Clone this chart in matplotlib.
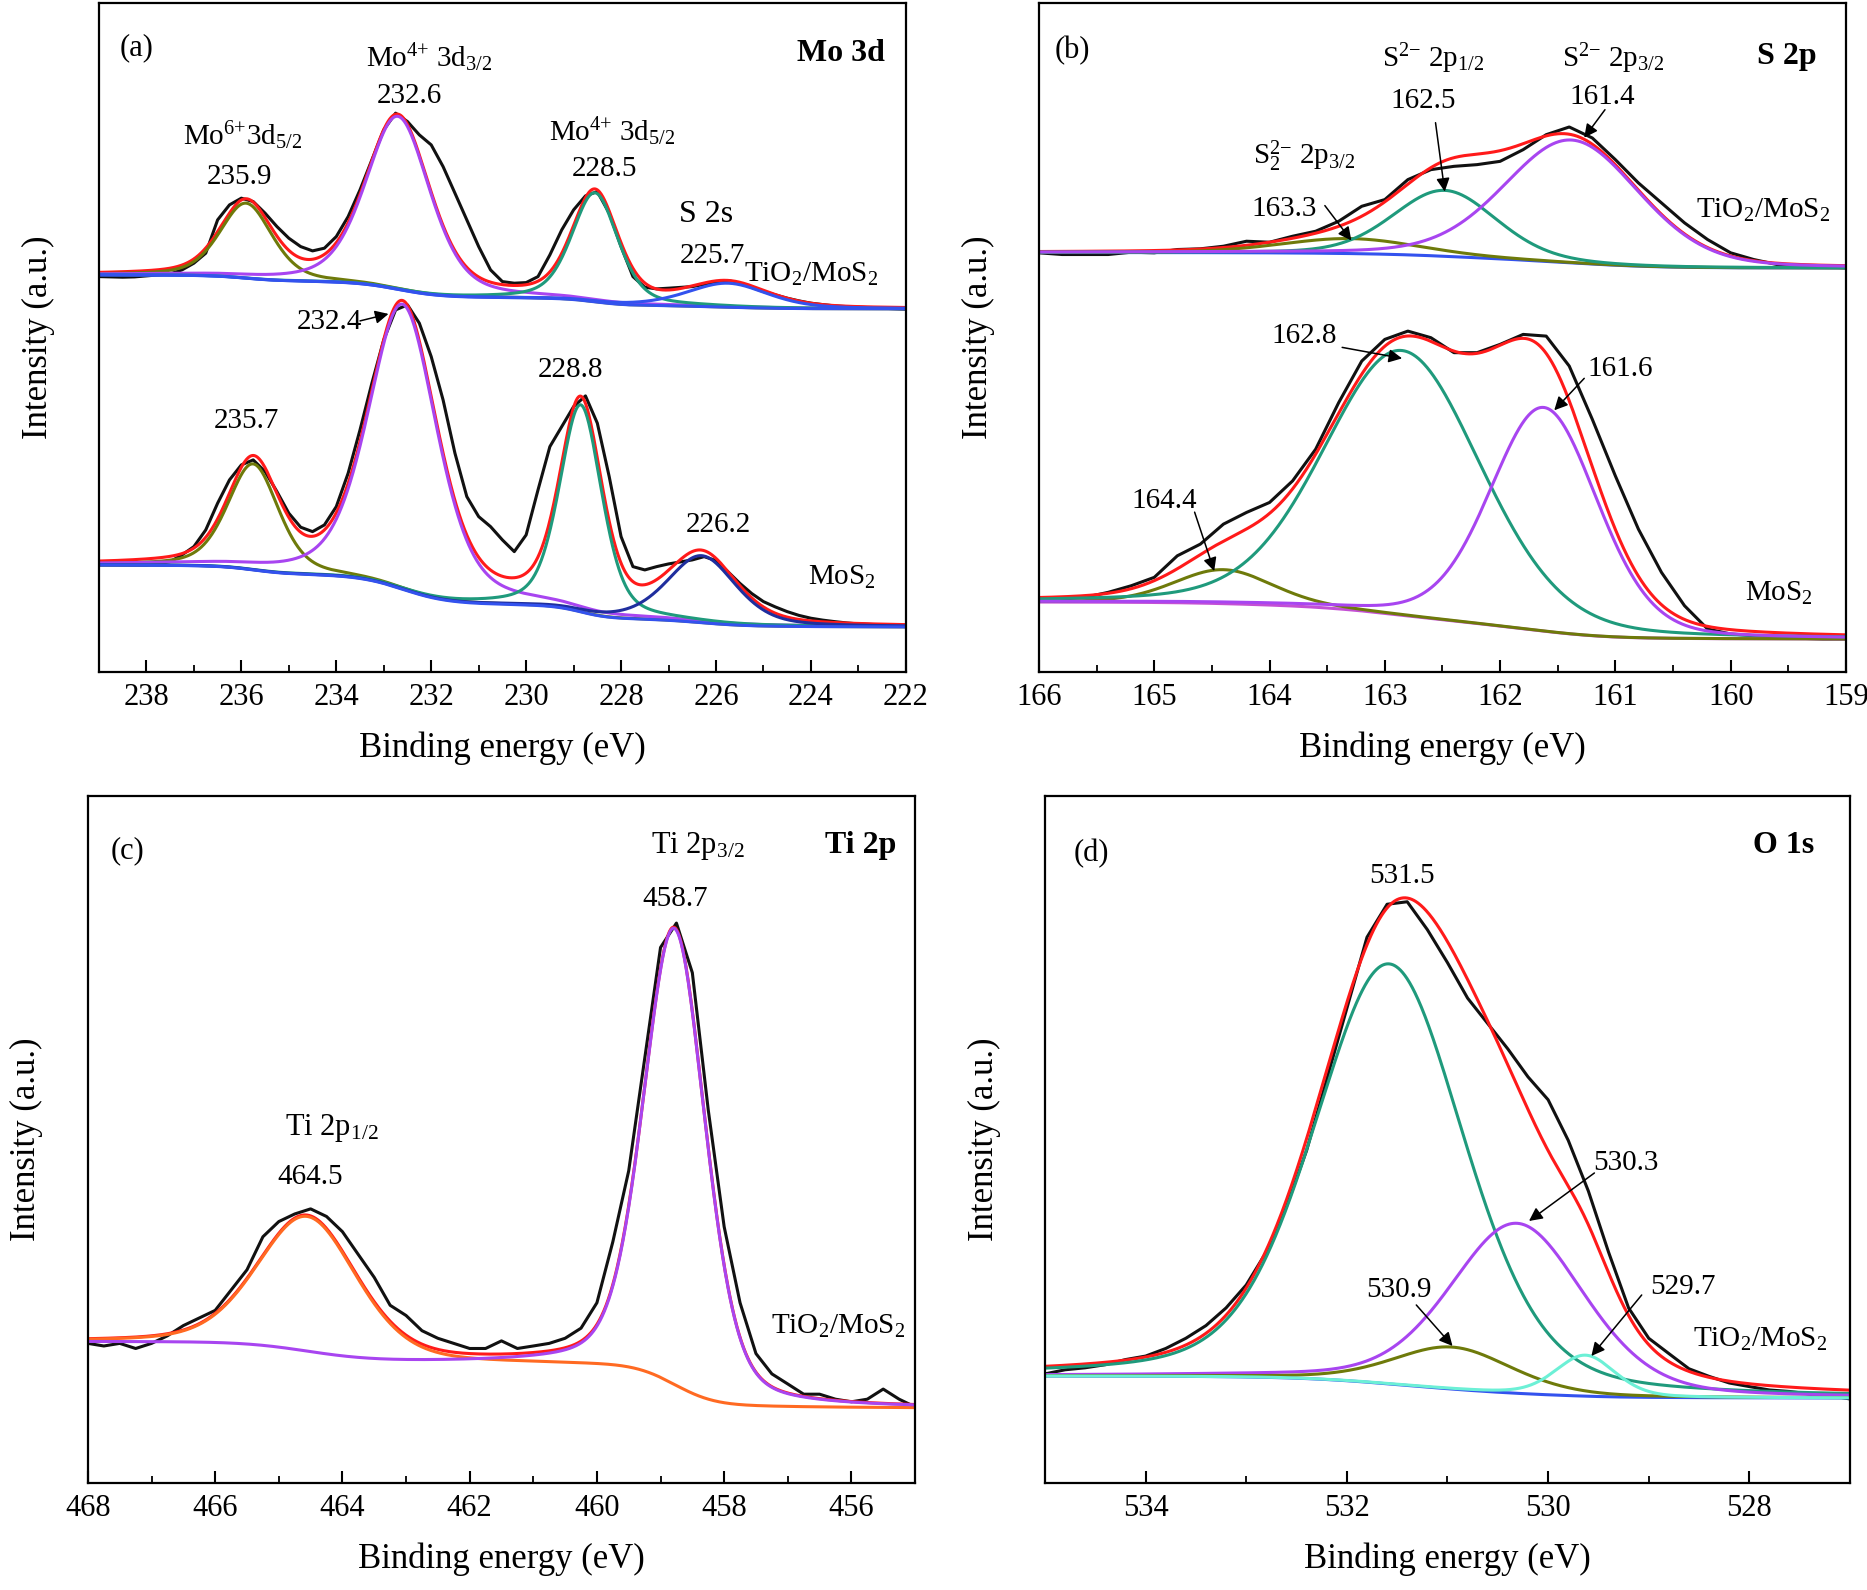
import numpy as np
import matplotlib
matplotlib.use('Agg')
import matplotlib.pyplot as plt
from matplotlib.ticker import MultipleLocator

plt.rcParams['font.family'] = ['Liberation Serif', 'DejaVu Serif']
plt.rcParams['mathtext.fontset'] = 'custom'
plt.rcParams['mathtext.rm'] = 'Liberation Serif'
plt.rcParams['mathtext.it'] = 'Liberation Serif:italic'
plt.rcParams['mathtext.bf'] = 'Liberation Serif:bold'

# ---------------- measured spectra (read off the figure) ----------------
# (a) Mo 3d, 239 -> 222 eV, step 0.25
mo_be = np.linspace(239, 222, 69)
mo_hybrid_counts = [395.3, 395, 394.7, 395, 396, 397, 398, 402, 408.7, 418.7, 452, 467,
                    473.7, 470.3, 458.7, 445.3, 433.7, 425.3, 421, 423.7, 435.3, 455.3,
                    482, 512, 542, 558.7, 550.3, 537, 527, 505.3, 478.7, 452, 425.3, 402,
                    390.3, 388.7, 389.3, 395.3, 417, 442, 462, 476, 480.3, 458.7, 425.3,
                    395.3, 384.7, 383, 383.7, 384.5, 385.3, 387.5, 389.3, 391.3, 388.7,
                    384.5, 380.3, 377, 373.7, 371, 368.7, 367.3, 366, 365.3, 364.7, 364.2,
                    363.7, 363.2, 362.7]
mo_bare_counts = [107, 107, 107, 107, 107, 108, 110.3, 117, 125.3, 142, 168.7, 192, 207,
                  212, 200.3, 180.3, 158.7, 144.7, 140.3, 147, 165.3, 198.7, 242, 288.7,
                  332, 362, 367, 348.7, 315.3, 272, 218.7, 175.3, 155.3, 145.3, 132, 120.3,
                  137, 182, 225.3, 245.3, 265.3, 276, 248.7, 195.3, 135.3, 105.3, 102,
                  105.3, 108, 110, 112, 115.3, 111.3, 100.3, 88.7, 78.5, 70.3, 65, 60.3,
                  56.5, 53.7, 51.8, 50.3, 49, 48, 47.5, 47, 46.2, 45.3]

# (b) S 2p, 166 -> 159 eV, step 0.2
s_be = np.linspace(166, 159, 36)
s_hybrid_counts = [419.7, 418, 418, 418, 420.3, 419.7, 423, 423.7, 426.3, 431.3, 430.3,
                   436.3, 441.3, 451.3, 466.3, 473, 493, 503, 506.3, 508, 511.3, 523, 538,
                   545.7, 534.7, 513, 489.7, 469.7, 449.7, 433, 419.7, 413, 408, 407,
                   405.7, 404.7]
s_bare_counts = [71.3, 73, 74.7, 79.7, 86.3, 94.7, 116.3, 128, 148, 159.7, 169.7, 191.3,
                 223, 269.7, 311.3, 333, 341.3, 334.7, 319.7, 319.7, 328, 338, 336.3,
                 306.3, 253, 196.3, 143, 99.7, 66.3, 43, 38, 36.3, 34.7, 33.7, 33, 33]

# (c) Ti 2p, 468 -> 455 eV, step 0.25
ti_be = np.linspace(468, 455, 53)
ti_counts = [139.6, 137, 139.6, 134.5, 139.6, 147.2, 157.4, 165, 172.6, 192.9, 213.2,
             246.2, 261.4, 269, 274.1, 266.5, 251.3, 228.4, 205.6, 177.7, 167.5, 152.3,
             144.7, 139.6, 134.5, 134.5, 142.1, 134.5, 137, 139.6, 144.7, 154.8, 180.2,
             241.1, 312.2, 423.9, 535.5, 559.9, 510.2, 373.1, 256.3, 180.2, 129.4, 109.1,
             99, 88.8, 88.8, 83.8, 81.2, 83.8, 93.9, 83.8, 76.1]

# (d) O 1s, 535 -> 527 eV, step 0.2
o_be = np.linspace(535, 527, 41)
o_counts = [109.1, 113.2, 115.2, 118.3, 123.4, 126.9, 134.5, 144.7, 157.4, 175.1, 198,
            231, 276.6, 332.5, 403.6, 474.6, 545.7, 578.7, 581.2, 553.3, 520.3, 484.8,
            459.4, 434, 406.1, 383.2, 342.6, 291.9, 231, 175, 144.7, 129.4, 114.2, 106.6,
            100, 96.4, 93, 91.5, 89, 87.5, 84]

# ---------------- fitted components: centre, height, FWHM ----------------
mo_hybrid_centers = [235.9, 232.7, 228.55, 225.75]
mo_hybrid_heights = [75, 173, 109, 24]
mo_hybrid_fwhm = [1.3, 1.6, 1.15, 2.0]
mo_hybrid_bg = [397, 363]          # background at high / low binding energy

mo_bare_centers = [235.75, 232.6, 228.85, 226.3]
mo_bare_heights = [106, 285, 207, 67]
mo_bare_fwhm = [1.27, 1.7, 1.05, 1.7]
mo_bare_bg = [107, 45]

s_hybrid_centers = [163.3, 162.48, 161.38]
s_hybrid_heights = [15, 66, 123]
s_hybrid_fwhm = [1.4, 1.05, 1.38]
s_hybrid_bg = [420, 404.5]

s_bare_centers = [164.4, 162.85, 161.62]
s_bare_heights = [34, 265, 224]
s_bare_fwhm = [1.0, 1.6, 1.1]
s_bare_bg = [70, 33]

ti_centers = [464.55, 458.78]
ti_heights = [136, 457]
ti_fwhm = [1.85, 1.15]
ti_bg = [141, 75]

o_centers = [531.58, 530.31, 530.95, 529.63]
o_heights = [420, 170, 42, 41]
o_fwhm = [1.76, 1.58, 1.4, 0.7]
o_bg = [107, 85]

# ---------------- colours ----------------
BLACK = '#111111'
RED = '#ff1a1a'
PURPLE = '#a845f0'
TEAL = '#1f9a7c'
OLIVE = '#6e7a0a'
BLUE = '#3352ee'
NAVY = '#1f2e9e'
ORANGE = '#ff6a22'
CYAN = '#6cf0d6'
PINK = '#c44fd4'


def pseudo_voigt(x, c, h, w, eta):
    g = np.exp(-4 * np.log(2) * ((x - c) / w) ** 2)
    l = 1.0 / (1 + 4 * ((x - c) / w) ** 2)
    return h * ((1 - eta) * g + eta * l)


def draw_fit(ax, be, counts, centers, heights, fwhm, eta, bg_ends, colors,
             bg_color=None, bg_last=True):
    x = np.linspace(min(be), max(be), 1500)
    peaks = [pseudo_voigt(x, c, h, w, eta) for c, h, w in zip(centers, heights, fwhm)]
    total = np.sum(peaks, axis=0)
    frac = np.cumsum(total)
    frac = frac / frac[-1]
    bg = bg_ends[1] + (bg_ends[0] - bg_ends[1]) * frac    # Shirley-type step
    lw = 2.2
    ax.plot(be, counts, color=BLACK, lw=lw)
    ax.plot(x, bg + total, color=RED, lw=lw)
    if bg_color and not bg_last:
        ax.plot(x, bg, color=bg_color, lw=lw)
    for p, col in zip(peaks, colors):
        ax.plot(x, bg + p, color=col, lw=lw)
    if bg_color and bg_last:
        ax.plot(x, bg, color=bg_color, lw=lw)


def style_axes(ax, xlim, ylim, major, minor):
    ax.set_xlim(*xlim)
    ax.set_ylim(*ylim)
    ax.xaxis.set_major_locator(MultipleLocator(major))
    ax.xaxis.set_minor_locator(MultipleLocator(minor))
    ax.set_yticks([])
    ax.tick_params(axis='x', which='major', direction='in', length=9, width=1.5,
                   labelsize=22, pad=8)
    ax.tick_params(axis='x', which='minor', direction='in', length=5, width=1.3)
    for sp in ax.spines.values():
        sp.set_linewidth(1.6)
    ax.set_xlabel('Binding energy (eV)', fontsize=25, labelpad=14)
    ax.set_ylabel('Intensity (a.u.)', fontsize=25, labelpad=32)


def arrow(ax, tail, head):
    ax.annotate('', xy=head, xytext=tail,
                arrowprops=dict(arrowstyle='-|>', color='k', lw=1.1,
                                mutation_scale=20, shrinkA=0, shrinkB=0))


FS = 21
fig = plt.figure(figsize=(18.67, 15.9), dpi=100)

# ---------------- (a) Mo 3d ----------------
ax = fig.add_axes([0.0530, 0.5774, 0.4322, 0.4208])
draw_fit(ax, mo_be, mo_bare_counts, mo_bare_centers, mo_bare_heights, mo_bare_fwhm,
         0.4, mo_bare_bg, [OLIVE, PURPLE, TEAL, NAVY], bg_color=BLUE)
draw_fit(ax, mo_be, mo_hybrid_counts, mo_hybrid_centers, mo_hybrid_heights,
         mo_hybrid_fwhm, 0.4, mo_hybrid_bg, [OLIVE, PURPLE, TEAL, BLUE], bg_color=BLUE)
style_axes(ax, (239, 222), (0, 669), 2, 1)
ax.text(238.57, 624, '(a)', fontsize=22, ha='left', va='center')
ax.text(222.45, 618, 'Mo 3d', fontsize=23, fontweight='bold', ha='right', va='center')
ax.text(232.03, 614, r'Mo$^{4{+}}$ 3d$_{3/2}$', fontsize=FS, ha='center', va='center')
ax.text(232.47, 576, '232.6', fontsize=FS, ha='center', va='center')
ax.text(235.98, 536, r'Mo$^{6{+}}$3d$_{5/2}$', fontsize=FS, ha='center', va='center')
ax.text(236.04, 495, '235.9', fontsize=FS, ha='center', va='center')
ax.text(228.19, 540, r'Mo$^{4{+}}$ 3d$_{5/2}$', fontsize=FS, ha='center', va='center')
ax.text(228.34, 503, '228.5', fontsize=FS, ha='center', va='center')
ax.text(226.22, 457, 'S 2s', fontsize=23, ha='center', va='center')
ax.text(226.07, 416, '225.7', fontsize=FS, ha='center', va='center')
ax.text(225.4, 397, r'TiO$_2$/MoS$_2$', fontsize=FS, ha='left', va='center')
ax.text(234.15, 350, '232.4', fontsize=FS, ha='center', va='center')
arrow(ax, (233.5, 351), (232.9, 358))
ax.text(229.07, 302, '228.8', fontsize=FS, ha='center', va='center')
ax.text(235.89, 251, '235.7', fontsize=FS, ha='center', va='center')
ax.text(225.94, 147, '226.2', fontsize=FS, ha='center', va='center')
ax.text(223.35, 95, r'MoS$_2$', fontsize=FS, ha='center', va='center')

# ---------------- (b) S 2p ----------------
ax = fig.add_axes([0.5565, 0.5774, 0.4322, 0.4208])
draw_fit(ax, s_be, s_bare_counts, s_bare_centers, s_bare_heights, s_bare_fwhm,
         0.2, s_bare_bg, [OLIVE, TEAL, PURPLE], bg_color=PINK, bg_last=False)
draw_fit(ax, s_be, s_hybrid_counts, s_hybrid_centers, s_hybrid_heights, s_hybrid_fwhm,
         0.2, s_hybrid_bg, [OLIVE, TEAL, PURPLE], bg_color=BLUE, bg_last=False)
style_axes(ax, (166, 159), (0, 670), 1, 0.5)
ax.text(165.86, 622, '(b)', fontsize=22, ha='left', va='center')
ax.text(159.25, 616, 'S 2p', fontsize=23, fontweight='bold', ha='right', va='center')
ax.text(162.58, 614, r'S$^{2{-}}$ 2p$_{1/2}$', fontsize=FS, ha='center', va='center')
ax.text(162.67, 572, '162.5', fontsize=FS, ha='center', va='center')
arrow(ax, (162.56, 550), (162.48, 481))
ax.text(161.02, 614, r'S$^{2{-}}$ 2p$_{3/2}$', fontsize=FS, ha='center', va='center')
ax.text(161.11, 576, '161.4', fontsize=FS, ha='center', va='center')
arrow(ax, (161.09, 563), (161.27, 535))
ax.text(163.7, 516, r'S$_2^{2{-}}$ 2p$_{3/2}$', fontsize=FS, ha='center', va='center')
ax.text(163.87, 464, '163.3', fontsize=FS, ha='center', va='center')
arrow(ax, (163.52, 467), (163.29, 432))
ax.text(159.72, 462, r'TiO$_2$/MoS$_2$', fontsize=FS, ha='center', va='center')
ax.text(163.7, 336, '162.8', fontsize=FS, ha='center', va='center')
arrow(ax, (163.37, 325), (162.85, 314))
ax.text(160.96, 303, '161.6', fontsize=FS, ha='center', va='center')
arrow(ax, (161.27, 294), (161.53, 262))
ax.text(164.91, 171, '164.4', fontsize=FS, ha='center', va='center')
arrow(ax, (164.65, 160), (164.48, 101))
ax.text(159.58, 79, r'MoS$_2$', fontsize=FS, ha='center', va='center')

# ---------------- (c) Ti 2p ----------------
ax = fig.add_axes([0.0471, 0.0673, 0.4430, 0.4321])
draw_fit(ax, ti_be, ti_counts, ti_centers, ti_heights, ti_fwhm, 0.3, ti_bg,
         [ORANGE, PURPLE])
style_axes(ax, (468, 455), (0, 687), 2, 1)
ax.text(467.64, 632, '(c)', fontsize=22, ha='left', va='center')
ax.text(455.3, 637, 'Ti 2p', fontsize=23, fontweight='bold', ha='right', va='center')
ax.text(458.42, 637, r'Ti 2p$_{3/2}$', fontsize=FS + 1, ha='center', va='center')
ax.text(458.77, 584, '458.7', fontsize=FS, ha='center', va='center')
ax.text(464.16, 355, r'Ti 2p$_{1/2}$', fontsize=FS + 1, ha='center', va='center')
ax.text(464.51, 306, '464.5', fontsize=FS, ha='center', va='center')
ax.text(456.21, 157, r'TiO$_2$/MoS$_2$', fontsize=FS, ha='center', va='center')

# ---------------- (d) O 1s ----------------
ax = fig.add_axes([0.5597, 0.0673, 0.4312, 0.4321])
draw_fit(ax, o_be, o_counts, o_centers, o_heights, o_fwhm, 0.3, o_bg,
         [TEAL, PURPLE, OLIVE, CYAN], bg_color=BLUE, bg_last=False)
style_axes(ax, (535, 527), (0, 687), 2, 1)
ax.text(534.72, 629, '(d)', fontsize=22, ha='left', va='center')
ax.text(527.36, 637, 'O 1s', fontsize=23, fontweight='bold', ha='right', va='center')
ax.text(531.45, 607, '531.5', fontsize=FS, ha='center', va='center')
ax.text(529.23, 320, '530.3', fontsize=FS, ha='center', va='center')
arrow(ax, (529.54, 310), (530.19, 262))
ax.text(531.48, 193, '530.9', fontsize=FS, ha='center', va='center')
arrow(ax, (531.31, 178), (530.95, 137))
ax.text(528.66, 196, '529.7', fontsize=FS, ha='center', va='center')
arrow(ax, (529.07, 188), (529.57, 127))
ax.text(527.89, 144, r'TiO$_2$/MoS$_2$', fontsize=FS, ha='center', va='center')

fig.savefig('out.png', dpi=100)
